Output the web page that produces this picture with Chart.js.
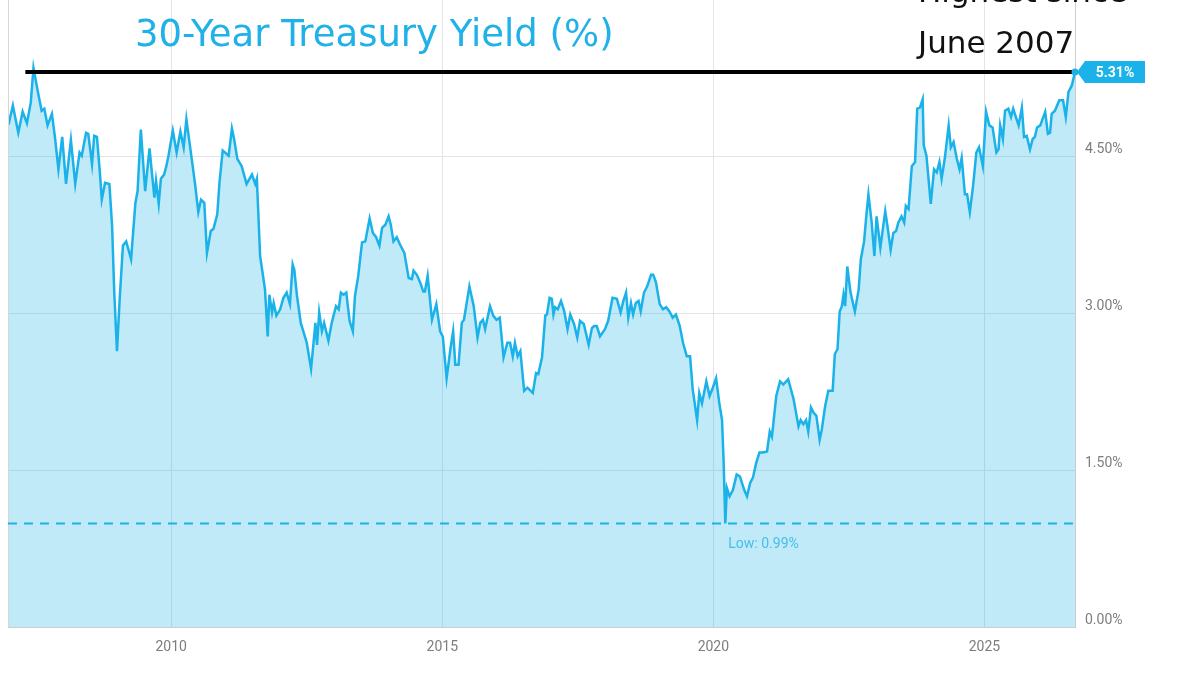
<!DOCTYPE html>
<html lang="en">
<head>
<meta charset="UTF-8">
<title>30-Year Treasury Yield (%)</title>
<script src="https://cdn.jsdelivr.net/npm/chart.js"></script>
<style>
    body { margin: 0; background: #fff; }
    .wrap { position: relative; width: 1200px; height: 675px; overflow: hidden; }
    .title {
        position: absolute; left: 135px; top: 12px;
        font-family: 'Comic Sans MS', 'DejaVu Sans', sans-serif;
        font-size: 37px; color: #1fb1e7; white-space: nowrap;
    }
    .note {
        position: absolute; left: 918px;
        font-family: 'Comic Sans MS', 'DejaVu Sans', sans-serif;
        font-size: 31px; color: #111; white-space: nowrap;
    }
</style>
</head>
<body>
<div class="wrap">
    <canvas id="chart" width="1200" height="675"></canvas>
    <div class="title">30-Year Treasury Yield (%)</div>
    <div class="note" style="top:-27px;">Highest since</div>
    <div class="note" style="top:24px;">June 2007</div>
</div>
<script>
// decimal years and yields (%)
const years = [
    2007.00, 2007.08, 2007.18, 2007.26, 2007.34, 2007.41, 2007.46, 2007.53, 2007.61, 2007.66,
    2007.72, 2007.80, 2007.86, 2007.92, 2007.99, 2008.06, 2008.15, 2008.23, 2008.31, 2008.35,
    2008.43, 2008.47, 2008.54, 2008.58, 2008.63, 2008.68, 2008.72, 2008.78, 2008.86, 2008.91,
    2008.95, 2009.00, 2009.05, 2009.11, 2009.17, 2009.26, 2009.34, 2009.38, 2009.44, 2009.52,
    2009.60, 2009.69, 2009.72, 2009.77, 2009.81, 2009.87, 2009.91, 2009.95, 2010.03, 2010.10,
    2010.17, 2010.23, 2010.28, 2010.35, 2010.44, 2010.50, 2010.55, 2010.61, 2010.66, 2010.73,
    2010.78, 2010.85, 2010.89, 2010.95, 2011.06, 2011.12, 2011.16, 2011.22, 2011.30, 2011.39,
    2011.49, 2011.55, 2011.58, 2011.64, 2011.73, 2011.78, 2011.81, 2011.86, 2011.89, 2011.94,
    2012.01, 2012.07, 2012.13, 2012.19, 2012.24, 2012.27, 2012.32, 2012.39, 2012.50, 2012.58,
    2012.66, 2012.69, 2012.73, 2012.78, 2012.82, 2012.90, 2012.96, 2013.04, 2013.09, 2013.13,
    2013.18, 2013.23, 2013.29, 2013.35, 2013.39, 2013.45, 2013.52, 2013.58, 2013.66, 2013.72,
    2013.78, 2013.84, 2013.89, 2013.95, 2014.01, 2014.05, 2014.10, 2014.16, 2014.22, 2014.30,
    2014.38, 2014.44, 2014.47, 2014.53, 2014.59, 2014.65, 2014.68, 2014.73, 2014.81, 2014.89,
    2014.96, 2015.01, 2015.08, 2015.15, 2015.20, 2015.24, 2015.30, 2015.36, 2015.40, 2015.50,
    2015.58, 2015.65, 2015.70, 2015.75, 2015.79, 2015.88, 2015.94, 2016.00, 2016.06, 2016.13,
    2016.20, 2016.25, 2016.30, 2016.34, 2016.39, 2016.44, 2016.51, 2016.57, 2016.67, 2016.73,
    2016.77, 2016.84, 2016.90, 2016.93, 2016.98, 2017.02, 2017.05, 2017.08, 2017.13, 2017.19,
    2017.25, 2017.31, 2017.36, 2017.43, 2017.49, 2017.54, 2017.61, 2017.70, 2017.76, 2017.80,
    2017.85, 2017.91, 2018.00, 2018.06, 2018.14, 2018.22, 2018.29, 2018.34, 2018.39, 2018.43,
    2018.48, 2018.52, 2018.57, 2018.62, 2018.66, 2018.72, 2018.78, 2018.85, 2018.89, 2018.94,
    2019.01, 2019.07, 2019.13, 2019.19, 2019.25, 2019.31, 2019.38, 2019.44, 2019.51, 2019.57,
    2019.62, 2019.70, 2019.74, 2019.79, 2019.87, 2019.93, 2019.99, 2020.05, 2020.11, 2020.16,
    2020.19, 2020.22, 2020.25, 2020.30, 2020.36, 2020.43, 2020.49, 2020.57, 2020.62, 2020.68,
    2020.73, 2020.79, 2020.85, 2020.91, 2020.99, 2021.04, 2021.08, 2021.16, 2021.23, 2021.29,
    2021.38, 2021.48, 2021.57, 2021.61, 2021.66, 2021.71, 2021.75, 2021.80, 2021.85, 2021.90,
    2021.96, 2022.00, 2022.06, 2022.12, 2022.20, 2022.24, 2022.29, 2022.33, 2022.37, 2022.40,
    2022.43, 2022.47, 2022.53, 2022.61, 2022.68, 2022.72, 2022.78, 2022.82, 2022.86, 2022.92,
    2022.97, 2023.01, 2023.08, 2023.17, 2023.21, 2023.27, 2023.32, 2023.37, 2023.41, 2023.47,
    2023.52, 2023.55, 2023.60, 2023.66, 2023.72, 2023.76, 2023.81, 2023.86, 2023.88, 2023.93,
    2024.01, 2024.07, 2024.12, 2024.17, 2024.21, 2024.27, 2024.34, 2024.38, 2024.43, 2024.49,
    2024.54, 2024.58, 2024.64, 2024.68, 2024.73, 2024.79, 2024.85, 2024.90, 2024.97, 2025.03,
    2025.09, 2025.15, 2025.22, 2025.26, 2025.29, 2025.34, 2025.38, 2025.44, 2025.49, 2025.53,
    2025.58, 2025.63, 2025.69, 2025.73, 2025.78, 2025.84, 2025.89, 2025.93, 2025.97, 2026.03,
    2026.12, 2026.17, 2026.21, 2026.24, 2026.30, 2026.38, 2026.45, 2026.50, 2026.55, 2026.61,
    2026.67
];
const yields = [
    4.81, 4.99, 4.73, 4.93, 4.82, 5.02, 5.35, 5.15, 4.94, 4.96,
    4.80, 4.91, 4.67, 4.38, 4.69, 4.24, 4.66, 4.24, 4.54, 4.51,
    4.73, 4.72, 4.43, 4.70, 4.69, 4.38, 4.09, 4.25, 4.24, 3.84,
    3.20, 2.64, 3.14, 3.65, 3.69, 3.52, 4.06, 4.17, 4.76, 4.17,
    4.58, 4.11, 4.27, 4.05, 4.29, 4.33, 4.41, 4.51, 4.75, 4.54,
    4.74, 4.59, 4.86, 4.59, 4.24, 3.97, 4.09, 4.06, 3.58, 3.79,
    3.81, 3.95, 4.25, 4.56, 4.51, 4.77, 4.67, 4.48, 4.41, 4.24,
    4.33, 4.24, 4.29, 3.55, 3.23, 2.78, 3.18, 3.01, 3.10, 2.98,
    3.04, 3.15, 3.20, 3.09, 3.47, 3.42, 3.17, 2.91, 2.72, 2.47,
    2.91, 2.70, 3.01, 2.83, 2.91, 2.74, 2.91, 3.07, 3.04, 3.20,
    3.18, 3.20, 2.93, 2.83, 3.17, 3.36, 3.68, 3.69, 3.91, 3.77,
    3.73, 3.65, 3.82, 3.85, 3.93, 3.85, 3.69, 3.73, 3.66, 3.58,
    3.34, 3.33, 3.41, 3.37, 3.30, 3.21, 3.21, 3.36, 2.94, 3.09,
    2.83, 2.78, 2.38, 2.66, 2.83, 2.51, 2.51, 2.91, 2.94, 3.26,
    3.07, 2.77, 2.91, 2.94, 2.85, 3.07, 2.98, 2.94, 2.96, 2.58,
    2.72, 2.72, 2.59, 2.72, 2.59, 2.64, 2.26, 2.29, 2.24, 2.43,
    2.42, 2.58, 2.98, 2.99, 3.15, 3.14, 2.99, 3.06, 3.04, 3.12,
    3.02, 2.85, 2.99, 2.90, 2.77, 2.93, 2.90, 2.70, 2.86, 2.88,
    2.88, 2.78, 2.85, 2.93, 3.15, 3.14, 3.01, 3.12, 3.20, 2.96,
    3.10, 2.99, 3.10, 3.12, 3.02, 3.20, 3.26, 3.37, 3.37, 3.30,
    3.09, 3.04, 3.06, 3.02, 2.96, 2.99, 2.88, 2.72, 2.59, 2.59,
    2.27, 1.98, 2.24, 2.14, 2.35, 2.21, 2.29, 2.38, 2.14, 1.98,
    1.57, 0.99, 1.33, 1.25, 1.31, 1.46, 1.44, 1.31, 1.25, 1.38,
    1.43, 1.57, 1.67, 1.67, 1.68, 1.87, 1.82, 2.21, 2.35, 2.32,
    2.37, 2.18, 1.92, 1.98, 1.94, 1.98, 1.87, 2.10, 2.05, 2.02,
    1.79, 1.89, 2.11, 2.26, 2.26, 2.61, 2.66, 3.02, 3.07, 3.18,
    3.07, 3.45, 3.20, 3.02, 3.23, 3.52, 3.69, 3.93, 4.14, 3.87,
    3.55, 3.93, 3.63, 3.98, 3.84, 3.61, 3.77, 3.79, 3.87, 3.93,
    3.87, 4.03, 4.00, 4.41, 4.45, 4.96, 4.97, 5.05, 4.61, 4.51,
    4.05, 4.38, 4.35, 4.45, 4.29, 4.49, 4.80, 4.59, 4.64, 4.48,
    4.38, 4.49, 4.14, 4.14, 3.97, 4.22, 4.54, 4.59, 4.41, 4.93,
    4.80, 4.78, 4.54, 4.57, 4.80, 4.67, 4.94, 4.96, 4.88, 4.96,
    4.88, 4.80, 4.97, 4.69, 4.70, 4.57, 4.67, 4.69, 4.78, 4.80,
    4.93, 4.72, 4.73, 4.91, 4.94, 5.04, 5.04, 4.88, 5.12, 5.18,
    5.31
];
const xTicks = [2010, 2015, 2020, 2025];
const yTicks = [0, 1.5, 3, 4.5];
const lowValue = 0.99;
const lastValue = 5.31;
const highSince = 2007.31;   // where the "highest since" line starts

const lineColor = 'rgb(26, 178, 232)';
const gridColor = '#e4e4e4';

// reference lines, labels and the last-value tag
const overlayPlugin = {
    id: 'overlay',
    afterDatasetsDraw(chart) {
        const { ctx, chartArea: a, scales: { x, y } } = chart;
        ctx.save();

        // left frame line
        ctx.strokeStyle = '#d6d6d6';
        ctx.lineWidth = 1;
        ctx.beginPath();
        ctx.moveTo(a.left + 0.5, a.top);
        ctx.lineTo(a.left + 0.5, a.bottom);
        ctx.stroke();

        // dashed low line
        const yLow = y.getPixelForValue(lowValue);
        ctx.setLineDash([9, 7]);
        ctx.strokeStyle = lineColor;
        ctx.lineWidth = 2;
        ctx.beginPath();
        ctx.moveTo(a.left, yLow);
        ctx.lineTo(a.right, yLow);
        ctx.stroke();
        ctx.setLineDash([]);

        const xLow = x.getPixelForValue(years[yields.indexOf(lowValue)]);
        ctx.fillStyle = 'rgb(70, 190, 235)';
        ctx.font = '14px Roboto';
        ctx.textAlign = 'left';
        ctx.textBaseline = 'middle';
        ctx.fillText('Low: ' + lowValue.toFixed(2) + '%', xLow + 3, yLow + 21);

        // black "highest since" line
        const yHi = y.getPixelForValue(lastValue);
        ctx.strokeStyle = '#000';
        ctx.lineWidth = 4;
        ctx.beginPath();
        ctx.moveTo(x.getPixelForValue(highSince), yHi);
        ctx.lineTo(a.right, yHi);
        ctx.stroke();

        // end dot
        ctx.fillStyle = lineColor;
        ctx.beginPath();
        ctx.arc(a.right, yHi, 3.5, 0, Math.PI * 2);
        ctx.fill();

        // last value tag
        const l = a.right + 2;
        ctx.beginPath();
        ctx.moveTo(l, yHi);
        ctx.lineTo(l + 8, yHi - 11);
        ctx.lineTo(l + 68, yHi - 11);
        ctx.lineTo(l + 68, yHi + 11);
        ctx.lineTo(l + 8, yHi + 11);
        ctx.closePath();
        ctx.fill();
        ctx.fillStyle = '#fff';
        ctx.font = 'bold 14px Roboto';
        ctx.textAlign = 'center';
        ctx.fillText(lastValue.toFixed(2) + '%', l + 38, yHi + 1);

        ctx.restore();
    }
};

new Chart(document.getElementById('chart'), {
    type: 'line',
    data: {
        datasets: [{
            data: years.map((yr, i) => ({ x: yr, y: yields[i] })),
            borderColor: lineColor,
            backgroundColor: 'rgba(30, 180, 230, 0.28)',
            borderWidth: 2.5,
            fill: 'origin',
            pointRadius: 0,
            tension: 0
        }]
    },
    options: {
        responsive: false,
        animation: false,
        layout: { padding: { left: 8, top: 0, right: 0, bottom: 0 } },
        plugins: {
            legend: { display: false },
            tooltip: { enabled: false }
        },
        scales: {
            x: {
                type: 'linear',
                min: 2006.99,
                max: 2026.67,
                afterBuildTicks: (scale) => { scale.ticks = xTicks.map(v => ({ value: v })); },
                afterFit: (scale) => {
                    scale.height = 48;
                    scale.paddingLeft = 0;
                    scale.paddingRight = 0;
                },
                grid: { color: gridColor, drawTicks: false },
                border: { color: '#cdcdcd' },
                ticks: {
                    padding: 12,
                    color: '#7d7d7d',
                    font: { family: 'Roboto', size: 14 },
                    callback: (v) => String(v)
                }
            },
            y: {
                position: 'right',
                min: 0,
                max: 6,
                afterBuildTicks: (scale) => { scale.ticks = yTicks.map(v => ({ value: v })); },
                afterFit: (scale) => {
                    scale.width = 125;
                    scale.paddingTop = 0;
                    scale.paddingBottom = 0;
                },
                grid: { color: gridColor, drawTicks: false },
                border: { color: '#cdcdcd' },
                ticks: {
                    padding: 10,
                    labelOffset: -7,
                    color: '#7d7d7d',
                    font: { family: 'Roboto', size: 14 },
                    callback: (v) => v.toFixed(2) + '%'
                }
            }
        }
    },
    plugins: [overlayPlugin]
});
</script>
</body>
</html>
